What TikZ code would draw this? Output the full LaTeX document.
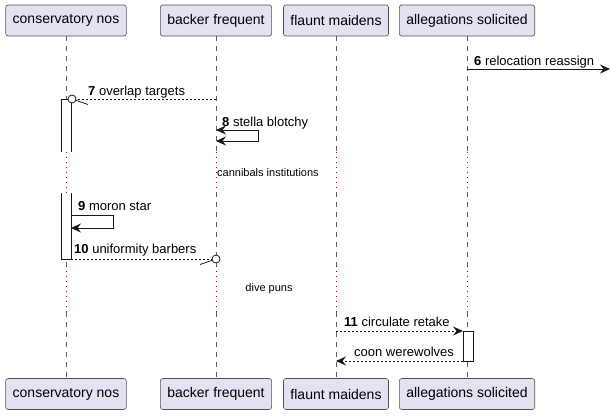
\documentclass[tikz,border=0pt]{standalone}
\usepackage{fontspec}
\setmainfont{Liberation Sans}
\usetikzlibrary{arrows.meta}
\usetikzlibrary{calc}

\definecolor{partfill}{HTML}{E2E2F0}
\definecolor{partline}{HTML}{181818}
\definecolor{delayred}{HTML}{A80036}

\begin{document}
\begin{tikzpicture}[x=1pt, y=-1pt,
    participant/.style={draw=partline!75, fill=partfill, rounded corners=2.5pt, line width=0.6pt, minimum height=31pt, inner xsep=7pt, font=\fontsize{14}{16}\selectfont},
    lifeline/.style={draw=partline!70, line width=0.5pt, dash pattern=on 5pt off 5pt},
    delayline/.style={draw=delayred, line width=0.8pt, dash pattern=on 1pt off 4pt},
    msg/.style={draw=partline, line width=0.8pt},
    reply/.style={msg, dash pattern=on 2pt off 2pt},
    msgtip/.style={-{Stealth[length=10pt, width=9pt, inset=3.5pt]}},
    msglabel/.style={anchor=base west, inner sep=0pt, font=\fontsize{13}{15}\selectfont},
    delaylabel/.style={inner sep=0pt, font=\fontsize{11}{13}\selectfont},
    actbar/.style={draw=partline, fill=white, line width=0.8pt},
    lostcircle/.style={circle, draw=partline, fill=white, line width=0.8pt, inner sep=0pt, minimum size=8pt}
  ]
  \useasboundingbox (0,0) rectangle (612,415);

  \node[participant] (cons) at (66,20.5) {conservatory nos};
  \node[participant] (back) at (216,20.5) {backer frequent};
  \node[participant] (flau) at (336,20.5) {flaunt maidens};
  \node[participant] (alle) at (467,20.5) {allegations solicited};

  \node[participant] (consB) at (66,394) {conservatory nos};
  \node[participant] (backB) at (216,394) {backer frequent};
  \node[participant] (flauB) at (336,394) {flaunt maidens};
  \node[participant] (alleB) at (467,394) {allegations solicited};

  % lifelines, dotted where the delays are
  \foreach \p/\x in {cons/66, back/216, flau/336, alle/467} {
    \coordinate (\p d1) at (\x,152);
    \coordinate (\p d2) at (\x,192);
    \coordinate (\p d3) at (\x,266);
    \coordinate (\p d4) at (\x,312);
    \draw[lifeline] (\p.south) -- (\p d1);
    \draw[delayline] (\p d1) -- (\p d2);
    \draw[lifeline] (\p d2) -- (\p d3);
    \draw[delayline] (\p d3) -- (\p d4);
    \draw[lifeline] (\p d4) -- (\p B.north);
  }

  % activations
  \draw[actbar] (61,152) -- (61,99) -- (71,99) -- (71,152);
  \draw[actbar] (61,193) -- (61,259) -- (71,259) -- (71,193);
  \draw[actbar] (463,331) rectangle (473,361);

  % 6
  \coordinate (m6a) at (467,69);
  \coordinate (m6b) at (610,69);
  \draw[msg, msgtip] (m6a) -- (m6b);
  \node[msglabel] (l6) at (474,65) {\textbf{6} relocation reassign};

  % 7
  \coordinate (m7a) at (216,99);
  \node[lostcircle] (c7) at (72,99) {};
  \coordinate (m7s) at (88,104.5);
  \draw[reply] (m7a) -- (c7);
  \draw[msg] (c7) -- (m7s);
  \node[msglabel] (l7) at (88,95) {\textbf{7} overlap targets};

  % 8
  \coordinate (m8a) at (216,130);
  \coordinate (m8b) at (216,141);
  \draw[msg, {Stealth[length=10pt, width=9pt, inset=3.5pt]}-{Stealth[length=10pt, width=9pt, inset=3.5pt]}] (m8a) -- ++(42,0) |- (m8b);
  \node[msglabel] (l8) at (222,126) {\textbf{8} stella blotchy};

  \node[delaylabel, anchor=west] (d1) at (217,173) {cannibals institutions};

  % 9
  \coordinate (m9a) at (71,215);
  \coordinate (m9b) at (71,228);
  \draw[msg, msgtip] (m9a) -- ++(42,0) |- (m9b);
  \node[msglabel] (l9) at (78,210.5) {\textbf{9} moron star};

  % 10
  \coordinate (m10a) at (71,259);
  \node[lostcircle] (c10) at (216,259) {};
  \coordinate (m10s) at (200,264.5);
  \draw[reply] (m10a) -- (c10);
  \draw[msg] (c10) -- (m10s);
  \node[msglabel] (l10) at (74,253) {\textbf{10} uniformity barbers};

  \node[delaylabel] (d2) at (269,289) {dive puns};

  % 11
  \coordinate (m11a) at (336,331);
  \coordinate (m11b) at (463,331);
  \draw[reply, msgtip] (m11a) -- (m11b);
  \node[msglabel] (l11) at (344,326.5) {\textbf{11} circulate retake};

  % reply
  \coordinate (m12a) at (463,361);
  \coordinate (m12b) at (336,361);
  \draw[reply, msgtip] (m12a) -- (m12b);
  \node[msglabel] (l12) at (354,356.5) {coon werewolves};
\end{tikzpicture}
\end{document}
